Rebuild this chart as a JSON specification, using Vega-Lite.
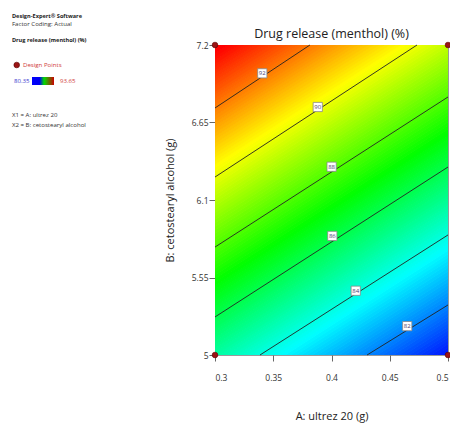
{
"$schema": "https://vega.github.io/schema/vega-lite/v6.json",
"width": 233, "height": 310,
"autosize": {"type": "none"},
"padding": {"left": 215, "top": 45, "right": 2, "bottom": 73},
"config": {"view": {"stroke": "#9a9a9a", "strokeWidth": 1}, "font": "Open Sans"},
"datasets": {
"bands": [
{"v":80.45,"a":0.3,"y":3.904},{"v":80.45,"a":0.5,"y":4.966},
{"v":80.55,"a":0.3,"y":3.929},{"v":80.55,"a":0.5,"y":4.990},
{"v":80.65,"a":0.3,"y":3.953},{"v":80.65,"a":0.5,"y":5.015},
{"v":80.75,"a":0.3,"y":3.978},{"v":80.75,"a":0.5,"y":5.039},
{"v":80.85,"a":0.3,"y":4.002},{"v":80.85,"a":0.5,"y":5.064},
{"v":80.95,"a":0.3,"y":4.027},{"v":80.95,"a":0.5,"y":5.089},
{"v":81.05,"a":0.3,"y":4.052},{"v":81.05,"a":0.5,"y":5.113},
{"v":81.15,"a":0.3,"y":4.076},{"v":81.15,"a":0.5,"y":5.138},
{"v":81.25,"a":0.3,"y":4.101},{"v":81.25,"a":0.5,"y":5.163},
{"v":81.35,"a":0.3,"y":4.126},{"v":81.35,"a":0.5,"y":5.187},
{"v":81.45,"a":0.3,"y":4.150},{"v":81.45,"a":0.5,"y":5.212},
{"v":81.55,"a":0.3,"y":4.175},{"v":81.55,"a":0.5,"y":5.236},
{"v":81.65,"a":0.3,"y":4.200},{"v":81.65,"a":0.5,"y":5.261},
{"v":81.75,"a":0.3,"y":4.224},{"v":81.75,"a":0.5,"y":5.286},
{"v":81.85,"a":0.3,"y":4.249},{"v":81.85,"a":0.5,"y":5.310},
{"v":81.95,"a":0.3,"y":4.273},{"v":81.95,"a":0.5,"y":5.335},
{"v":82.05,"a":0.3,"y":4.298},{"v":82.05,"a":0.5,"y":5.360},
{"v":82.15,"a":0.3,"y":4.323},{"v":82.15,"a":0.5,"y":5.384},
{"v":82.25,"a":0.3,"y":4.347},{"v":82.25,"a":0.5,"y":5.409},
{"v":82.35,"a":0.3,"y":4.372},{"v":82.35,"a":0.5,"y":5.434},
{"v":82.45,"a":0.3,"y":4.397},{"v":82.45,"a":0.5,"y":5.458},
{"v":82.55,"a":0.3,"y":4.421},{"v":82.55,"a":0.5,"y":5.483},
{"v":82.65,"a":0.3,"y":4.446},{"v":82.65,"a":0.5,"y":5.507},
{"v":82.75,"a":0.3,"y":4.470},{"v":82.75,"a":0.5,"y":5.532},
{"v":82.85,"a":0.3,"y":4.495},{"v":82.85,"a":0.5,"y":5.557},
{"v":82.95,"a":0.3,"y":4.520},{"v":82.95,"a":0.5,"y":5.581},
{"v":83.05,"a":0.3,"y":4.544},{"v":83.05,"a":0.5,"y":5.606},
{"v":83.15,"a":0.3,"y":4.569},{"v":83.15,"a":0.5,"y":5.631},
{"v":83.25,"a":0.3,"y":4.594},{"v":83.25,"a":0.5,"y":5.655},
{"v":83.35,"a":0.3,"y":4.618},{"v":83.35,"a":0.5,"y":5.680},
{"v":83.45,"a":0.3,"y":4.643},{"v":83.45,"a":0.5,"y":5.704},
{"v":83.55,"a":0.3,"y":4.667},{"v":83.55,"a":0.5,"y":5.729},
{"v":83.65,"a":0.3,"y":4.692},{"v":83.65,"a":0.5,"y":5.754},
{"v":83.75,"a":0.3,"y":4.717},{"v":83.75,"a":0.5,"y":5.778},
{"v":83.85,"a":0.3,"y":4.741},{"v":83.85,"a":0.5,"y":5.803},
{"v":83.95,"a":0.3,"y":4.766},{"v":83.95,"a":0.5,"y":5.828},
{"v":84.05,"a":0.3,"y":4.791},{"v":84.05,"a":0.5,"y":5.852},
{"v":84.15,"a":0.3,"y":4.815},{"v":84.15,"a":0.5,"y":5.877},
{"v":84.25,"a":0.3,"y":4.840},{"v":84.25,"a":0.5,"y":5.901},
{"v":84.35,"a":0.3,"y":4.864},{"v":84.35,"a":0.5,"y":5.926},
{"v":84.45,"a":0.3,"y":4.889},{"v":84.45,"a":0.5,"y":5.951},
{"v":84.55,"a":0.3,"y":4.914},{"v":84.55,"a":0.5,"y":5.975},
{"v":84.65,"a":0.3,"y":4.938},{"v":84.65,"a":0.5,"y":6.000},
{"v":84.75,"a":0.3,"y":4.963},{"v":84.75,"a":0.5,"y":6.025},
{"v":84.85,"a":0.3,"y":4.988},{"v":84.85,"a":0.5,"y":6.049},
{"v":84.95,"a":0.3,"y":5.012},{"v":84.95,"a":0.5,"y":6.074},
{"v":85.05,"a":0.3,"y":5.037},{"v":85.05,"a":0.5,"y":6.098},
{"v":85.15,"a":0.3,"y":5.061},{"v":85.15,"a":0.5,"y":6.123},
{"v":85.25,"a":0.3,"y":5.086},{"v":85.25,"a":0.5,"y":6.148},
{"v":85.35,"a":0.3,"y":5.111},{"v":85.35,"a":0.5,"y":6.172},
{"v":85.45,"a":0.3,"y":5.135},{"v":85.45,"a":0.5,"y":6.197},
{"v":85.55,"a":0.3,"y":5.160},{"v":85.55,"a":0.5,"y":6.222},
{"v":85.65,"a":0.3,"y":5.185},{"v":85.65,"a":0.5,"y":6.246},
{"v":85.75,"a":0.3,"y":5.209},{"v":85.75,"a":0.5,"y":6.271},
{"v":85.85,"a":0.3,"y":5.234},{"v":85.85,"a":0.5,"y":6.296},
{"v":85.95,"a":0.3,"y":5.258},{"v":85.95,"a":0.5,"y":6.320},
{"v":86.05,"a":0.3,"y":5.283},{"v":86.05,"a":0.5,"y":6.345},
{"v":86.15,"a":0.3,"y":5.308},{"v":86.15,"a":0.5,"y":6.369},
{"v":86.25,"a":0.3,"y":5.332},{"v":86.25,"a":0.5,"y":6.394},
{"v":86.35,"a":0.3,"y":5.357},{"v":86.35,"a":0.5,"y":6.419},
{"v":86.45,"a":0.3,"y":5.382},{"v":86.45,"a":0.5,"y":6.443},
{"v":86.55,"a":0.3,"y":5.406},{"v":86.55,"a":0.5,"y":6.468},
{"v":86.65,"a":0.3,"y":5.431},{"v":86.65,"a":0.5,"y":6.493},
{"v":86.75,"a":0.3,"y":5.455},{"v":86.75,"a":0.5,"y":6.517},
{"v":86.85,"a":0.3,"y":5.480},{"v":86.85,"a":0.5,"y":6.542},
{"v":86.95,"a":0.3,"y":5.505},{"v":86.95,"a":0.5,"y":6.567},
{"v":87.05,"a":0.3,"y":5.529},{"v":87.05,"a":0.5,"y":6.591},
{"v":87.15,"a":0.3,"y":5.554},{"v":87.15,"a":0.5,"y":6.616},
{"v":87.25,"a":0.3,"y":5.579},{"v":87.25,"a":0.5,"y":6.640},
{"v":87.35,"a":0.3,"y":5.603},{"v":87.35,"a":0.5,"y":6.665},
{"v":87.45,"a":0.3,"y":5.628},{"v":87.45,"a":0.5,"y":6.690},
{"v":87.55,"a":0.3,"y":5.652},{"v":87.55,"a":0.5,"y":6.714},
{"v":87.65,"a":0.3,"y":5.677},{"v":87.65,"a":0.5,"y":6.739},
{"v":87.75,"a":0.3,"y":5.702},{"v":87.75,"a":0.5,"y":6.764},
{"v":87.85,"a":0.3,"y":5.726},{"v":87.85,"a":0.5,"y":6.788},
{"v":87.95,"a":0.3,"y":5.751},{"v":87.95,"a":0.5,"y":6.813},
{"v":88.05,"a":0.3,"y":5.776},{"v":88.05,"a":0.5,"y":6.837},
{"v":88.15,"a":0.3,"y":5.800},{"v":88.15,"a":0.5,"y":6.862},
{"v":88.25,"a":0.3,"y":5.825},{"v":88.25,"a":0.5,"y":6.887},
{"v":88.35,"a":0.3,"y":5.849},{"v":88.35,"a":0.5,"y":6.911},
{"v":88.45,"a":0.3,"y":5.874},{"v":88.45,"a":0.5,"y":6.936},
{"v":88.55,"a":0.3,"y":5.899},{"v":88.55,"a":0.5,"y":6.961},
{"v":88.65,"a":0.3,"y":5.923},{"v":88.65,"a":0.5,"y":6.985},
{"v":88.75,"a":0.3,"y":5.948},{"v":88.75,"a":0.5,"y":7.010},
{"v":88.85,"a":0.3,"y":5.973},{"v":88.85,"a":0.5,"y":7.034},
{"v":88.95,"a":0.3,"y":5.997},{"v":88.95,"a":0.5,"y":7.059},
{"v":89.05,"a":0.3,"y":6.022},{"v":89.05,"a":0.5,"y":7.084},
{"v":89.15,"a":0.3,"y":6.046},{"v":89.15,"a":0.5,"y":7.108},
{"v":89.25,"a":0.3,"y":6.071},{"v":89.25,"a":0.5,"y":7.133},
{"v":89.35,"a":0.3,"y":6.096},{"v":89.35,"a":0.5,"y":7.158},
{"v":89.45,"a":0.3,"y":6.120},{"v":89.45,"a":0.5,"y":7.182},
{"v":89.55,"a":0.3,"y":6.145},{"v":89.55,"a":0.5,"y":7.207},
{"v":89.65,"a":0.3,"y":6.170},{"v":89.65,"a":0.5,"y":7.231},
{"v":89.75,"a":0.3,"y":6.194},{"v":89.75,"a":0.5,"y":7.256},
{"v":89.85,"a":0.3,"y":6.219},{"v":89.85,"a":0.5,"y":7.281},
{"v":89.95,"a":0.3,"y":6.243},{"v":89.95,"a":0.5,"y":7.305},
{"v":90.05,"a":0.3,"y":6.268},{"v":90.05,"a":0.5,"y":7.330},
{"v":90.15,"a":0.3,"y":6.293},{"v":90.15,"a":0.5,"y":7.355},
{"v":90.25,"a":0.3,"y":6.317},{"v":90.25,"a":0.5,"y":7.379},
{"v":90.35,"a":0.3,"y":6.342},{"v":90.35,"a":0.5,"y":7.404},
{"v":90.45,"a":0.3,"y":6.367},{"v":90.45,"a":0.5,"y":7.429},
{"v":90.55,"a":0.3,"y":6.392},{"v":90.55,"a":0.5,"y":7.453},
{"v":90.65,"a":0.3,"y":6.416},{"v":90.65,"a":0.5,"y":7.478},
{"v":90.75,"a":0.3,"y":6.441},{"v":90.75,"a":0.5,"y":7.503},
{"v":90.85,"a":0.3,"y":6.465},{"v":90.85,"a":0.5,"y":7.527},
{"v":90.95,"a":0.3,"y":6.490},{"v":90.95,"a":0.5,"y":7.552},
{"v":91.05,"a":0.3,"y":6.515},{"v":91.05,"a":0.5,"y":7.576},
{"v":91.15,"a":0.3,"y":6.539},{"v":91.15,"a":0.5,"y":7.601},
{"v":91.25,"a":0.3,"y":6.564},{"v":91.25,"a":0.5,"y":7.626},
{"v":91.35,"a":0.3,"y":6.589},{"v":91.35,"a":0.5,"y":7.650},
{"v":91.45,"a":0.3,"y":6.613},{"v":91.45,"a":0.5,"y":7.675},
{"v":91.55,"a":0.3,"y":6.638},{"v":91.55,"a":0.5,"y":7.700},
{"v":91.65,"a":0.3,"y":6.663},{"v":91.65,"a":0.5,"y":7.724},
{"v":91.75,"a":0.3,"y":6.687},{"v":91.75,"a":0.5,"y":7.749},
{"v":91.85,"a":0.3,"y":6.712},{"v":91.85,"a":0.5,"y":7.773},
{"v":91.95,"a":0.3,"y":6.736},{"v":91.95,"a":0.5,"y":7.798},
{"v":92.05,"a":0.3,"y":6.761},{"v":92.05,"a":0.5,"y":7.823},
{"v":92.15,"a":0.3,"y":6.786},{"v":92.15,"a":0.5,"y":7.847},
{"v":92.25,"a":0.3,"y":6.810},{"v":92.25,"a":0.5,"y":7.872},
{"v":92.35,"a":0.3,"y":6.835},{"v":92.35,"a":0.5,"y":7.897},
{"v":92.45,"a":0.3,"y":6.860},{"v":92.45,"a":0.5,"y":7.921},
{"v":92.55,"a":0.3,"y":6.884},{"v":92.55,"a":0.5,"y":7.946},
{"v":92.65,"a":0.3,"y":6.909},{"v":92.65,"a":0.5,"y":7.970},
{"v":92.75,"a":0.3,"y":6.933},{"v":92.75,"a":0.5,"y":7.995},
{"v":92.85,"a":0.3,"y":6.958},{"v":92.85,"a":0.5,"y":8.020},
{"v":92.95,"a":0.3,"y":6.983},{"v":92.95,"a":0.5,"y":8.044},
{"v":93.05,"a":0.3,"y":7.007},{"v":93.05,"a":0.5,"y":8.069},
{"v":93.15,"a":0.3,"y":7.032},{"v":93.15,"a":0.5,"y":8.094},
{"v":93.25,"a":0.3,"y":7.057},{"v":93.25,"a":0.5,"y":8.118},
{"v":93.35,"a":0.3,"y":7.081},{"v":93.35,"a":0.5,"y":8.143},
{"v":93.45,"a":0.3,"y":7.106},{"v":93.45,"a":0.5,"y":8.167},
{"v":93.55,"a":0.3,"y":7.130},{"v":93.55,"a":0.5,"y":8.192},
{"v":93.65,"a":0.3,"y":7.155},{"v":93.65,"a":0.5,"y":8.217},
{"v":93.75,"a":0.3,"y":7.180},{"v":93.75,"a":0.5,"y":8.241},
{"v":93.85,"a":0.3,"y":7.204},{"v":93.85,"a":0.5,"y":8.266}
],
"contours": [
{"k":92,"a":0.3,"b":6.753,"a2":0.3815,"b2":7.2},
{"k":90,"a":0.3,"b":6.263,"a2":0.4734,"b2":7.2},
{"k":88,"a":0.3,"b":5.766,"a2":0.5,"b2":6.831},
{"k":86,"a":0.3,"b":5.270,"a2":0.5,"b2":6.334},
{"k":84,"a":0.3386,"b":5.0,"a2":0.5,"b2":5.852},
{"k":82,"a":0.4305,"b":5.0,"a2":0.5,"b2":5.355}
],
"labels": [
{"k":"92","a":0.3406,"b":6.999},
{"k":"90","a":0.3882,"b":6.760},
{"k":"88","a":0.4001,"b":6.336},
{"k":"86","a":0.4007,"b":5.845},
{"k":"84","a":0.4208,"b":5.456},
{"k":"82","a":0.4650,"b":5.205}
],
"points": [
{"a":0.3,"b":5.0},{"a":0.3,"b":7.2},{"a":0.5,"b":5.0},{"a":0.5,"b":7.2}
]
},
"layer": [
{
"data": {"name": "bands"},
"mark": {"type": "line", "strokeWidth": 3.6, "strokeCap": "square", "clip": true},
"encoding": {
"x": {"field": "a", "type": "quantitative", "scale": {"domain": [0.3, 0.5], "nice": false, "zero": false},
"axis": {"title": "A: ultrez 20 (g)", "values": [0.3, 0.35, 0.4, 0.45, 0.5], "format": ".2~g", "grid": false, "domain": false, "tickSize": 6, "tickColor": "#666666", "labelFontSize": 8.5, "labelColor": "#333333", "labelPadding": 12, "labelFont": "Open Sans", "titleFont": "Open Sans", "titleFontSize": 11, "titleFontWeight": "normal", "titleColor": "#222222", "titlePadding": 29}},
"y": {"field": "y", "type": "quantitative", "scale": {"domain": [5, 7.2], "nice": false, "zero": false},
"axis": {"title": "B: cetostearyl alcohol (g)", "values": [5, 5.55, 6.1, 6.65, 7.2], "format": ".3~g", "grid": false, "domain": false, "tickSize": 6, "tickColor": "#666666", "labelFontSize": 8.5, "labelColor": "#333333", "labelPadding": 1, "labelFont": "Open Sans", "titleFont": "Open Sans", "titleFontSize": 11, "titleFontWeight": "normal", "titleColor": "#222222", "titlePadding": 16}},
"color": {"field": "v", "type": "quantitative", "legend": null,
"scale": {"domain": [80.35, 83.675, 87.0, 90.325, 93.65], "range": ["#0000ff", "#00ffff", "#00ff00", "#ffff00", "#ff0000"], "interpolate": "rgb"}},
"detail": {"field": "v", "type": "quantitative"},
"order": {"field": "a", "type": "quantitative"}
}
},
{
"data": {"name": "contours"},
"mark": {"type": "rule", "color": "#222222", "strokeWidth": 0.9},
"encoding": {
"x": {"field": "a", "type": "quantitative"}, "y": {"field": "b", "type": "quantitative"},
"x2": {"field": "a2"}, "y2": {"field": "b2"}
}
},
{
"data": {"name": "labels"},
"mark": {"type": "square", "size": 85, "filled": true, "fill": "#ffffff", "stroke": "#888888", "strokeWidth": 0.8, "opacity": 1},
"encoding": {"x": {"field": "a", "type": "quantitative"}, "y": {"field": "b", "type": "quantitative"}}
},
{
"data": {"name": "labels"},
"mark": {"type": "text", "fontSize": 6, "font": "Open Sans", "color": "#4a4070", "align": "center", "baseline": "middle"},
"encoding": {"x": {"field": "a", "type": "quantitative"}, "y": {"field": "b", "type": "quantitative"}, "text": {"field": "k"}}
},
{
"data": {"name": "points"},
"mark": {"type": "point", "shape": "circle", "filled": true, "size": 32, "fill": "#9b1414", "stroke": "#5a0000", "strokeWidth": 0.6, "opacity": 1, "clip": false},
"encoding": {"x": {"field": "a", "type": "quantitative"}, "y": {"field": "b", "type": "quantitative"}}
},
{
"data": {"values": [{"a": 0.4, "b": 7.278, "t": "Drug release (menthol) (%)"}]},
"mark": {"type": "text", "fontSize": 12.5, "font": "Open Sans", "color": "#222222", "align": "center", "baseline": "middle"},
"encoding": {"x": {"field": "a", "type": "quantitative"}, "y": {"field": "b", "type": "quantitative"}, "text": {"field": "t"}}
},
{
"data": {"values": [{"a": 0.1257, "b": 7.408, "t": "Design-Expert® Software"}, {"a": 0.1257, "b": 7.2355, "t": "Drug release (menthol) (%)"}]},
"mark": {"type": "text", "fontSize": 5.6, "fontWeight": "bold", "font": "Open Sans", "color": "#222222", "align": "left", "baseline": "middle"},
"encoding": {"x": {"field": "a", "type": "quantitative"}, "y": {"field": "b", "type": "quantitative"}, "text": {"field": "t"}}
},
{
"data": {"values": [{"a": 0.1257, "b": 7.347, "t": "Factor Coding: Actual"}, {"a": 0.1257, "b": 6.703, "t": "X1 = A: ultrez 20"}, {"a": 0.1257, "b": 6.632, "t": "X2 = B: cetostearyl alcohol"}]},
"mark": {"type": "text", "fontSize": 6.1, "font": "Open Sans", "color": "#333333", "align": "left", "baseline": "middle"},
"encoding": {"x": {"field": "a", "type": "quantitative"}, "y": {"field": "b", "type": "quantitative"}, "text": {"field": "t"}}
},
{
"data": {"values": [{"a": 0.1298, "b": 7.058}]},
"mark": {"type": "point", "shape": "circle", "filled": true, "size": 32, "fill": "#9b1414", "stroke": "#5a0000", "strokeWidth": 0.6, "opacity": 1},
"encoding": {"x": {"field": "a", "type": "quantitative"}, "y": {"field": "b", "type": "quantitative"}}
},
{
"data": {"values": [{"a": 0.1352, "b": 7.058, "t": "Design Points"}, {"a": 0.1670, "b": 6.9445, "t": "93.65"}]},
"mark": {"type": "text", "fontSize": 6.1, "font": "Open Sans", "color": "#d03a3a", "align": "left", "baseline": "middle"},
"encoding": {"x": {"field": "a", "type": "quantitative"}, "y": {"field": "b", "type": "quantitative"}, "text": {"field": "t"}}
},
{
"data": {"values": [{"a": 0.1275, "b": 6.9445, "t": "80.35"}]},
"mark": {"type": "text", "fontSize": 6.1, "font": "Open Sans", "color": "#3a3ad0", "align": "left", "baseline": "middle"},
"encoding": {"x": {"field": "a", "type": "quantitative"}, "y": {"field": "b", "type": "quantitative"}, "text": {"field": "t"}}
},
{
"data": {"values": [{"a": 0.1429, "b": 6.973, "a2": 0.1618, "b2": 6.916}]},
"mark": {"type": "rect", "fill": {"gradient": "linear", "x1": 0, "y1": 0, "x2": 1, "y2": 0, "stops": [{"offset": 0, "color": "#0000ff"}, {"offset": 0.35, "color": "#0000ee"}, {"offset": 0.55, "color": "#00dd00"}, {"offset": 1, "color": "#cc0000"}]}},
"encoding": {"x": {"field": "a", "type": "quantitative"}, "y": {"field": "b", "type": "quantitative"}, "x2": {"field": "a2"}, "y2": {"field": "b2"}}
}
]
}
